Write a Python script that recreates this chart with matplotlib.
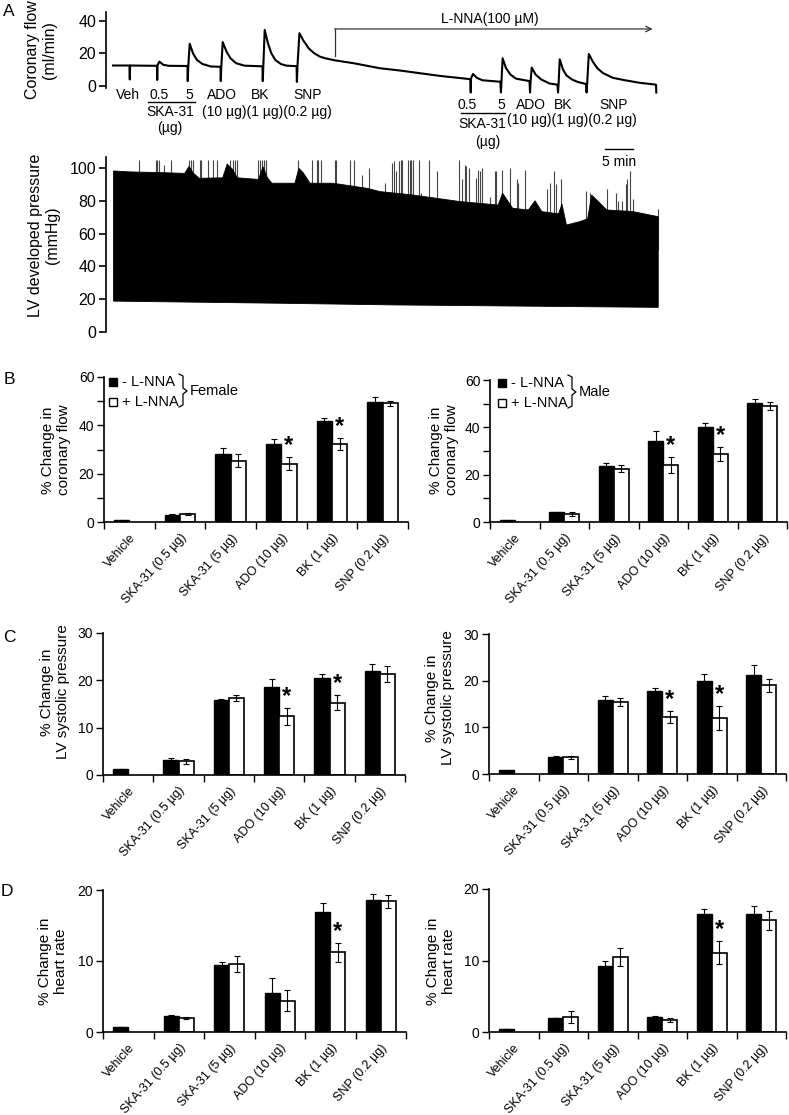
import matplotlib
matplotlib.use("Agg")
import matplotlib.pyplot as plt
import matplotlib.transforms as mtransforms
from matplotlib.patches import Rectangle
from matplotlib.lines import Line2D
import numpy as np

plt.rcParams['font.family'] = ['Liberation Sans', 'DejaVu Sans']

W, H = 789, 1115

# ---- panel A: coronary flow trace (time in min, ml/min) ----
flow_t = [0, 2.95, 3.0, 3.05, 7.85, 7.9, 7.95, 8.3, 9.0, 10.0, 13.3,
          13.35, 13.45, 13.7, 14.3, 15.0, 16.0, 17.5, 19.2,
          19.25, 19.35, 19.6, 20.3, 21.0, 22.0, 23.5, 26.7,
          26.75, 26.85, 27.1, 27.7, 28.3, 29.0, 30.0, 31.0, 32.8,
          32.85, 32.95, 33.3, 34.0, 35.0, 36.0, 37.0, 38.0, 39.6, 43.0,
          47.7, 51.3, 58.4, 63.8,
          63.85, 63.9, 63.95, 64.3, 65.0, 66.0, 69.2,
          69.3, 69.4, 69.6, 70.2, 71.0, 72.0, 74.4,
          74.5, 74.6, 74.8, 75.5, 76.5, 78.0, 79.4,
          79.5, 79.6, 79.8, 80.4, 81.0, 82.0, 83.0, 84.5,
          84.6, 84.7, 85.0, 85.7, 86.5, 87.5, 89.3, 91.5, 94.0, 97.0, 97.05]
flow_v = [12.6, 12.6, 4.0, 12.6, 12.4, 3.7, 12.8, 15.0, 13.0, 12.4, 12.3,
          3.0, 12.0, 26.0, 20.0, 16.0, 13.5, 12.0, 11.8,
          3.0, 12.0, 27.0, 21.0, 17.0, 14.0, 12.5, 12.1,
          3.0, 12.0, 34.5, 26.0, 20.0, 16.0, 13.5, 12.5, 12.2,
          2.5, 12.0, 32.5, 28.0, 23.0, 20.0, 18.0, 17.0, 15.8, 14.0,
          10.9, 9.5, 6.2, 4.2,
          4.2, -4.0, 4.5, 7.4, 5.0, 3.5, 2.6,
          -4.0, 3.0, 17.0, 11.0, 7.0, 4.5, 3.0,
          -4.0, 3.0, 11.3, 7.0, 4.0, 1.5, 0.8,
          -4.0, 1.5, 16.4, 10.0, 6.5, 4.0, 2.5, 1.2,
          -4.0, 1.5, 19.7, 15.0, 11.0, 8.0, 5.0, 3.5, 2.0, 0.8, -4.0]

# ---- panel A: LV developed pressure envelope (mmHg) ----
lv_top_t = [0.1, 3.0, 8.4, 12.8, 13.6, 14.3, 15.4, 19.6, 20.4, 21.4, 22.2,
            26.0, 26.8, 27.6, 28.4, 32.5, 33.2, 34.0, 35.2, 39.3, 45.4,
            47.7, 53.6, 62.0, 68.8, 69.6, 71.4, 74.2, 75.4, 76.6,
            79.6, 80.2, 81.0, 83.4, 84.8, 85.5, 88.2, 92.9, 97.4]
lv_top_v = [98.2, 97.6, 97.2, 96.7, 101.0, 97.0, 93.7, 94.0, 102.4, 99.0, 94.0,
            93.0, 100.8, 94.0, 90.7, 90.7, 99.8, 97.0, 90.7, 90.7, 87.6,
            85.6, 83.5, 79.5, 77.4, 84.6, 75.4, 74.4, 80.0, 73.4,
            72.0, 78.0, 65.2, 67.3, 69.0, 83.5, 74.4, 73.4, 70.3]
lv_bot_t = [0.1, 30.0, 50.0, 97.4]
lv_bot_v = [18.8, 17.5, 16.5, 15.0]

spike_t = [4.7, 7.6, 7.9, 8.3, 9.1, 10.3, 13.6, 14.0, 14.3, 15.5, 15.8, 17.0,
           17.9, 18.5, 20.9, 21.5, 21.8, 22.2, 25.9, 26.3, 26.6, 27.0, 27.3,
           33.1, 35.5, 36.4, 36.7, 37.1, 39.6, 39.9, 42.3, 43.0, 44.4, 45.8,
           48.5, 49.8, 50.2, 50.5, 51.1, 51.4, 51.7, 52.7, 53.0, 53.3, 53.6,
           54.6, 55.1, 56.5, 57.8, 61.8, 62.3, 62.9, 63.1, 63.6, 64.9, 65.2,
           65.5, 66.0, 67.4, 68.2, 68.5, 69.5, 70.9, 72.2, 72.4, 73.6, 77.6,
           78.0, 78.8, 79.2, 80.0, 84.5, 85.2, 88.2, 89.8, 90.2, 91.0, 91.6,
           91.8, 92.3, 92.9, 97.4]
spike_v = [105, 105, 105, 105, 102, 105, 105, 105, 105, 105, 105, 105,
           105, 105, 105, 105, 105, 105, 105, 105, 105, 105, 105,
           105, 105, 105, 105, 105, 105, 105, 105, 105, 96, 100,
           91, 103, 104, 98, 104, 105, 105, 105, 105, 105, 105,
           105, 85, 105, 98, 105, 93, 102, 101, 100, 94, 99,
           98, 100, 82, 98, 98, 99, 100, 93, 91, 99, 87,
           91, 98, 90, 93, 86, 85, 87, 85, 80, 80, 90,
           93, 98, 81, 75]

# ---- panels B-D: bar data ----
categories = ['Vehicle', 'SKA-31 (0.5 µg)', 'SKA-31 (5 µg)', 'ADO (10 µg)',
              'BK (1 µg)', 'SNP (0.2 µg)']

flow_f_ctrl = [0.8, 3.0, 28.2, 32.4, 42.0, 49.8]
flow_f_ctrl_err = [0.2, 0.3, 2.4, 2.0, 1.2, 2.0]
flow_f_lnna = [None, 3.4, 25.4, 24.2, 32.2, 49.1]
flow_f_lnna_err = [0, 0.5, 2.6, 2.7, 2.4, 1.0]
flow_m_ctrl = [0.7, 4.1, 23.6, 34.2, 40.0, 50.1]
flow_m_ctrl_err = [0.1, 0.3, 1.3, 4.3, 1.8, 2.0]
flow_m_lnna = [None, 3.5, 22.6, 24.0, 28.6, 49.0]
flow_m_lnna_err = [0, 0.9, 1.3, 3.5, 3.0, 1.6]

sys_f_ctrl = [1.2, 3.2, 15.8, 18.5, 20.4, 21.9]
sys_f_ctrl_err = [0.1, 0.3, 0.3, 1.8, 1.0, 1.6]
sys_f_lnna = [None, 2.9, 16.2, 12.4, 15.3, 21.3]
sys_f_lnna_err = [0, 0.5, 0.6, 1.8, 1.6, 1.7]
sys_m_ctrl = [0.8, 3.6, 15.9, 17.7, 20.0, 21.3]
sys_m_ctrl_err = [0.05, 0.2, 0.9, 0.7, 1.5, 2.1]
sys_m_lnna = [None, 3.6, 15.4, 12.2, 12.0, 19.0]
sys_m_lnna_err = [0, 0.3, 0.8, 1.3, 2.5, 1.4]

hr_f_ctrl = [0.7, 2.2, 9.4, 5.5, 16.9, 18.6]
hr_f_ctrl_err = [0.05, 0.2, 0.45, 2.1, 1.2, 0.8]
hr_f_lnna = [None, 2.0, 9.6, 4.4, 11.2, 18.4]
hr_f_lnna_err = [0, 0.15, 1.1, 1.5, 1.3, 0.9]
hr_m_ctrl = [0.45, 1.9, 9.2, 2.1, 16.5, 16.5]
hr_m_ctrl_err = [0, 0, 0.8, 0.15, 0.7, 1.1]
hr_m_lnna = [None, 2.15, 10.5, 1.65, 11.1, 15.6]
hr_m_lnna_err = [0, 0.85, 1.2, 0.3, 1.6, 1.3]

stars_flow = [3, 4]
stars_sys = [3, 4]
stars_hr = [4]

fig = plt.figure(figsize=(W / 100, H / 100), dpi=100)
px = mtransforms.Affine2D().scale(1 / W, -1 / H).translate(0, 1) + fig.transFigure


def add_ax(l, t, r, b):
    return fig.add_axes([l / W, 1 - b / H, (r - l) / W, (b - t) / H])


def txt(x, y, s, size=9.5, **kw):
    kw.setdefault('ha', 'center')
    kw.setdefault('va', 'center')
    fig.text(x, y, s, transform=px, fontsize=size, **kw)


def hline(x0, x1, y, lw=1.0, color='black'):
    fig.add_artist(Line2D([x0, x1], [y, y], transform=px, color=color, lw=lw))


# ---------- A: coronary flow ----------
axf = add_ax(106, 11.25, 670, 94.1)
axf.plot(flow_t, flow_v, color='black', lw=1.5)
axf.set_xlim(-1.25, 99.5)
axf.set_ylim(-5, 46)
for s in ['top', 'right', 'bottom']:
    axf.spines[s].set_visible(False)
axf.spines['left'].set_linewidth(1.2)
axf.spines['left'].set_bounds(-1, 45.5)
axf.set_xticks([])
axf.set_yticks([0, 20, 40])
axf.tick_params(axis='y', direction='out', length=5, width=1.2, labelsize=11.5, pad=2)
axf.patch.set_alpha(0)
# L-NNA bracket
axf.plot([39.6, 39.6], [18.5, 35.1], color='#333333', lw=0.9, clip_on=False)
axf.annotate('', xy=(96.4, 35.1), xytext=(39.6, 35.1),
             arrowprops=dict(arrowstyle='->', color='#333333', lw=0.9,
                             shrinkA=0, shrinkB=0))
axf.text(67.3, 41.2, 'L-NNA(100 µM)', ha='center', va='center', fontsize=10)

# ---------- A: LV developed pressure ----------
axl = add_ax(106, 156.5, 670, 333.6)
axl.vlines(spike_t, 50, spike_v, color='#444444', lw=0.8, zorder=1)
axl.fill(np.r_[lv_top_t, lv_bot_t[::-1]], np.r_[lv_top_v, lv_bot_v[::-1]],
         color='black', lw=0.6, zorder=2)
axl.set_xlim(-1.25, 99.5)
axl.set_ylim(-1, 107)
for s in ['top', 'right', 'bottom']:
    axl.spines[s].set_visible(False)
axl.spines['left'].set_linewidth(1.2)
axl.spines['left'].set_bounds(0, 107)
axl.set_xticks([])
axl.set_yticks([0, 20, 40, 60, 80, 100])
axl.tick_params(axis='y', direction='out', length=5, width=1.2, labelsize=11.5, pad=2)
axl.patch.set_alpha(0)

txt(41, 50, 'Coronary flow\n(ml/min)', size=11.5, rotation=90, linespacing=1.1)
txt(44, 235, 'LV developed pressure\n(mmHg)', size=11.5, rotation=90, linespacing=1.1)

# event labels, first series
for x, s in [(128, 'Veh'), (159, '0.5'), (189, '5'), (222, 'ADO'), (260, 'BK'), (308, 'SNP')]:
    txt(x, 95, s, size=10)
hline(148, 195, 102)
txt(170, 112, 'SKA-31', size=10)
txt(267, 112, '(10 µg)(1 µg)(0.2 µg)', size=10)
txt(170, 128, '(µg)', size=10)
# event labels, with L-NNA
for x, s in [(467, '0.5'), (501, '5'), (531, 'ADO'), (563, 'BK'), (614, 'SNP')]:
    txt(x, 105, s, size=10)
hline(461, 505, 113)
txt(482, 124, 'SKA-31', size=10)
txt(572, 120, '(10 µg)(1 µg)(0.2 µg)', size=10)
txt(488, 142, '(µg)', size=10)
hline(605, 633, 149)
txt(619, 162, '5 min', size=10)

# ---------- bar panels ----------
def bar_panel(rect, ctrl, ctrl_err, lnna, lnna_err, ymax, major, minor, stars):
    ax = add_ax(*rect)
    idx = np.arange(len(categories))
    ax.bar(idx + 0.2, ctrl, width=0.3, align='edge', color='black',
           edgecolor='black', lw=1.0)
    ax.errorbar(idx + 0.35, ctrl, yerr=ctrl_err, fmt='none', ecolor='black',
                elinewidth=0.8, capsize=2.2, capthick=0.8)
    keep = [i for i, v in enumerate(lnna) if v is not None]
    lv = [lnna[i] for i in keep]
    le = [lnna_err[i] for i in keep]
    ax.bar(np.array(keep) + 0.5, lv, width=0.3, align='edge', color='white',
           edgecolor='black', lw=1.2)
    ax.errorbar(np.array(keep) + 0.65, lv, yerr=le, fmt='none', ecolor='black',
                elinewidth=0.8, capsize=2.2, capthick=0.8)
    for i in stars:
        ax.annotate('*', xy=(i + 0.65, lnna[i] + lnna_err[i]), xytext=(0, 0),
                    textcoords='offset points', ha='center', va='bottom',
                    fontsize=17, fontweight='bold')
    ax.set_xlim(0, 6)
    ax.set_ylim(0, ymax)
    for s in ['top', 'right']:
        ax.spines[s].set_visible(False)
    for s in ['left', 'bottom']:
        ax.spines[s].set_linewidth(1.2)
    ax.set_xticks(np.arange(7))
    ax.set_xticklabels([])
    ax.set_xticks(idx + 0.5, minor=True)
    ax.set_xticklabels(categories, minor=True, rotation=48, ha='right',
                       rotation_mode='anchor', fontsize=9)
    ax.tick_params(axis='x', which='major', direction='out', length=5, width=1.0)
    ax.tick_params(axis='x', which='minor', length=0, pad=7)
    ax.set_yticks(major)
    if minor:
        ax.set_yticks(minor, minor=True)
    ax.tick_params(axis='y', which='both', direction='out', length=5, width=1.0,
                   labelsize=10, pad=2)
    ax.patch.set_alpha(0)
    return ax


bar_panel((104, 377, 408, 522), flow_f_ctrl, flow_f_ctrl_err, flow_f_lnna,
          flow_f_lnna_err, 60, [0, 20, 40, 60], [10, 30, 50], stars_flow)
bar_panel((490, 380, 787, 522), flow_m_ctrl, flow_m_ctrl_err, flow_m_lnna,
          flow_m_lnna_err, 60, [0, 20, 40, 60], [10, 30, 50], stars_flow)
bar_panel((103, 633, 405, 775), sys_f_ctrl, sys_f_ctrl_err, sys_f_lnna,
          sys_f_lnna_err, 30, [0, 10, 20, 30], None, stars_sys)
bar_panel((489, 634, 786, 774), sys_m_ctrl, sys_m_ctrl_err, sys_m_lnna,
          sys_m_lnna_err, 30, [0, 10, 20, 30], None, stars_sys)
bar_panel((103, 890, 406, 1032), hr_f_ctrl, hr_f_ctrl_err, hr_f_lnna,
          hr_f_lnna_err, 20, [0, 10, 20], None, stars_hr)
bar_panel((489, 889, 786, 1032), hr_m_ctrl, hr_m_ctrl_err, hr_m_lnna,
          hr_m_lnna_err, 20, [0, 10, 20], None, stars_hr)

# y labels for bar panels
txt(56, 450, '% Change in\ncoronary flow', size=11, rotation=90, linespacing=1.1)
txt(444, 450, '% Change in\ncoronary flow', size=11, rotation=90, linespacing=1.1)
txt(55, 692, '% Change in\nLV systolic pressure', size=11, rotation=90, linespacing=1.1)
txt(440, 698, '% Change in\nLV systolic pressure', size=11, rotation=90, linespacing=1.1)
txt(53, 961, '% Change in\nheart rate', size=11, rotation=90, linespacing=1.1)
txt(441, 961, '% Change in\nheart rate', size=11, rotation=90, linespacing=1.1)

# legends with sex brackets
for sx, by, sex in [(113, 382, 'Female'), (502, 383, 'Male')]:
    fig.add_artist(Rectangle((sx - 4, by - 4), 8, 8, transform=px,
                             facecolor='black', edgecolor='black', lw=1.0))
    fig.add_artist(Rectangle((sx - 4, by + 16), 8, 8, transform=px,
                             facecolor='white', edgecolor='black', lw=1.0))
    txt(sx + 9, by, '- L-NNA', size=10.5, ha='left')
    txt(sx + 9, by + 20, '+ L-NNA', size=10.5, ha='left')
    bx = sx + 70
    fig.add_artist(Line2D([bx - 4, bx, bx, bx + 4, bx, bx, bx - 4],
                          [by - 8, by - 6, by + 6, by + 9, by + 12, by + 23, by + 25],
                          transform=px, color='black', lw=0.9))
    txt(bx + 7, by + 9, sex, size=10.5, ha='left')

# panel letters
txt(9, 12, 'A', size=12.5)
txt(9, 379, 'B', size=12.5)
txt(9, 638, 'C', size=12.5)
txt(7, 892, 'D', size=12.5)

fig.savefig('out.png', dpi=100)
